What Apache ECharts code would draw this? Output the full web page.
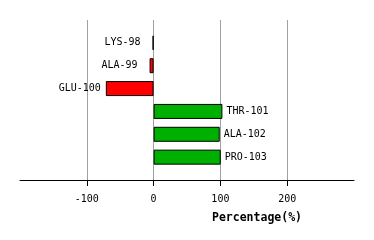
<!DOCTYPE html>
<html><head><meta charset="utf-8">
<script src="https://cdn.jsdelivr.net/npm/echarts@6/dist/echarts.min.js"></script>
<style>html,body{margin:0;padding:0;background:#fff}#c{width:374px;height:240px}</style>
</head><body><div id="c"></div>
<script>
const categories = ['LYS-98', 'ALA-99', 'GLU-100', 'THR-101', 'ALA-102', 'PRO-103'];
const values = [-1.5, -6, -71.5, 103, 99, 100.5];
const tickValues = [-100, 0, 100, 200];
const axisTitle = 'Percentage(%)';

const FONT = 'DejaVu Sans Mono';
const axisCats = [''].concat(categories, ['']);
const data = values.map((v, i) => {
  const neg = v < 0;
  return {
    value: [v, categories[i]],
    itemStyle: { color: neg ? (v > -3 ? '#000000' : '#ff0000') : '#00b000' },
    label: {
      show: true,
      formatter: categories[i],
      position: neg ? 'left' : 'right',
      distance: neg ? (v > -20 ? 12 : 5) : 4
    }
  };
});

const chart = echarts.init(document.getElementById('c'), null, { renderer: 'canvas' });
chart.setOption({
  animation: false,
  backgroundColor: '#ffffff',
  grid: { left: 20, right: 20, top: 20, bottom: 60, containLabel: false },
  title: {
    text: axisTitle, left: 207, top: 207,
    textStyle: { fontFamily: FONT, fontWeight: 'bold', fontSize: 11.5, color: '#000' }
  },
  xAxis: {
    type: 'value', min: -200, max: 300, interval: 100,
    axisLine: { show: true, lineStyle: { color: '#000', width: 1 } },
    axisTick: { show: true, length: 6, customValues: tickValues, lineStyle: { color: '#000' } },
    axisLabel: { customValues: tickValues, margin: 14, fontFamily: FONT, fontSize: 10, color: '#000' },
    splitLine: { show: true, lineStyle: { color: '#a0a0a0', width: 1 } }
  },
  yAxis: {
    type: 'category', data: axisCats, inverse: true, boundaryGap: false,
    axisLine: { show: false }, axisTick: { show: false }, axisLabel: { show: false }, splitLine: { show: false }
  },
  series: [{
    type: 'bar', barWidth: 15,
    itemStyle: { borderColor: '#000', borderWidth: 1 },
    label: { fontFamily: FONT, fontSize: 10, color: '#000' },
    data: data
  }]
});
</script></body></html>
